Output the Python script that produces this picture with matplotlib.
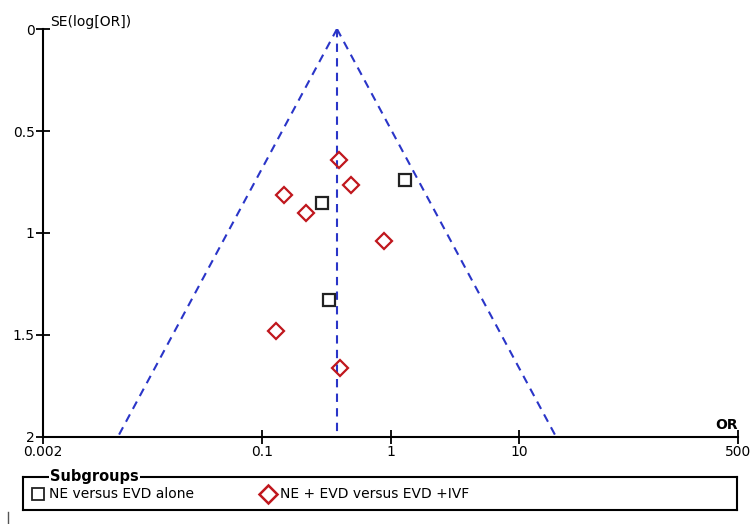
import matplotlib
matplotlib.use("Agg")
import matplotlib.pyplot as plt
from matplotlib.lines import Line2D
import numpy as np

# subgroup 1: NE versus EVD alone (odds ratio, standard error of log OR)
or_evd = [1.30, 0.294, 0.333]
se_evd = [0.740, 0.853, 1.328]

# subgroup 2: NE + EVD versus EVD + IVF
or_ivf = [0.398, 0.493, 0.149, 0.221, 0.891, 0.129, 0.405]
se_ivf = [0.642, 0.765, 0.814, 0.902, 1.039, 1.480, 1.662]

pooled_or = 0.384
se_max = 2.0

x_ticks = [0.002, 0.1, 1, 10, 500]
x_labels = ["0.002", "0.1", "1", "10", "500"]
y_ticks = [0, 0.5, 1, 1.5, 2]
y_labels = ["0", "0.5", "1", "1.5", "2"]

blue = "#2a35c8"
red = "#c0171d"

fig = plt.figure(figsize=(7.52, 5.24), dpi=100)
ax = fig.add_axes([43 / 752, 1 - 437 / 524, 695 / 752, 408 / 524])

# funnel (95% pseudo confidence limits) and pooled estimate line
se_line = np.array([0, se_max])
ax.plot(pooled_or * np.exp(-1.96 * se_line), se_line, ls=(0, (4, 3)), color=blue, lw=1.5)
ax.plot(pooled_or * np.exp(1.96 * se_line), se_line, ls=(0, (4, 3)), color=blue, lw=1.5)
ax.plot([pooled_or, pooled_or], [0, se_max], ls=(0, (4, 3)), color=blue, lw=1.5)

ax.plot(or_evd, se_evd, ls="none", marker="s", ms=8, mfc="white", mec="#222222", mew=1.6)
ax.plot(or_ivf, se_ivf, ls="none", marker="D", ms=8, mfc="none", mec=red, mew=1.6)

ax.set_xscale("log")
ax.set_xlim(0.002, 500)
ax.set_ylim(2, 0)
ax.set_xticks(x_ticks)
ax.set_xticklabels(x_labels)
ax.minorticks_off()
ax.set_yticks(y_ticks)
ax.set_yticklabels(y_labels)
ax.tick_params(direction="inout", length=10, width=1.3, labelsize=10, pad=1)
for s in ["top", "right"]:
    ax.spines[s].set_visible(False)
for s in ["left", "bottom"]:
    ax.spines[s].set_linewidth(1.5)

ax.text(0.01, 1.0, "SE(log[OR])", transform=ax.transAxes, fontsize=10,
        ha="left", va="bottom")
ax.text(1.0, 0.012, "OR", transform=ax.transAxes, fontsize=10,
        ha="right", va="bottom", fontweight="bold")

# legend box drawn by hand
lax = fig.add_axes([23 / 752, 1 - 510 / 524, 714 / 752, 33 / 524])
lax.set_xlim(0, 1)
lax.set_ylim(0, 1)
lax.set_xticks([])
lax.set_yticks([])
for s in lax.spines.values():
    s.set_linewidth(1.5)
lax.text(0.038, 1.0, "Subgroups", fontsize=10.5, fontweight="bold", ha="left", va="center",
         bbox=dict(facecolor="white", edgecolor="none", pad=0.5))
lax.plot([0.021], [0.48], marker="s", ms=8, mfc="white", mec="#222222", mew=1.3)
lax.text(0.036, 0.48, "NE versus EVD alone", fontsize=10, va="center")
lax.plot([0.343], [0.48], marker="D", ms=9, mfc="white", mec=red, mew=1.8)
lax.text(0.360, 0.48, "NE + EVD versus EVD +IVF", fontsize=10, va="center")

fig.add_artist(Line2D([8 / 752, 8 / 752], [0, 12 / 524], color="#555555", lw=1))

fig.savefig("out.png", dpi=100)
